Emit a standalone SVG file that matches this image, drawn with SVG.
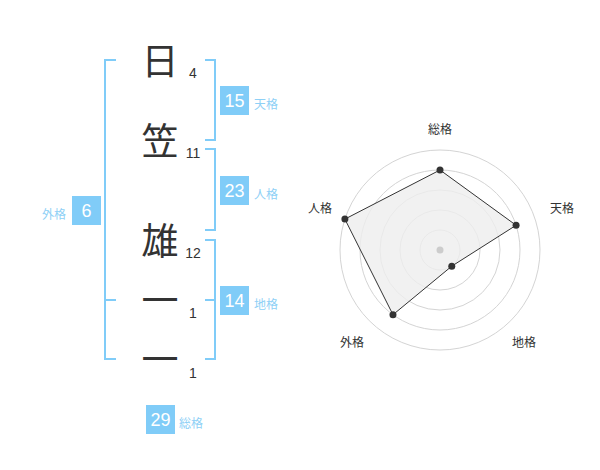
<svg xmlns="http://www.w3.org/2000/svg" width="600" height="470" viewBox="0 0 600 470">
<style>
.ch{font-family:"Noto Sans CJK JP","Noto Sans",sans-serif;font-size:37px;fill:#333;text-anchor:middle}
.num{font-family:"Liberation Sans",Arial,sans-serif;font-size:14px;fill:#333;text-anchor:middle}
.box{fill:#80ccf8}
.bnum{font-family:"Liberation Sans",Arial,sans-serif;font-size:18px;fill:#fff;text-anchor:middle}
.blab{font-family:"Noto Sans CJK JP",sans-serif;font-size:12px;fill:#8ed0f6}
.br{fill:none;stroke:#80ccf8;stroke-width:2}
.ring{fill:none;stroke:#d4d4d4;stroke-width:1}
.rlab{font-family:"Noto Sans CJK JP",sans-serif;font-size:12px;fill:#333;text-anchor:middle}
.dot{fill:#333}
</style>
<rect width="600" height="470" fill="#fff"/>
<g id="connectors">
<path class="br" d="M116,60 H105 V359 H116 M105,300 H116"/>
<path class="br" d="M205,60 H215 V140 H205"/>
<path class="br" d="M205,149 H215 V230 H205"/>
<path class="br" d="M205,240 H215 V359 H205 M205,300 H215"/>
</g>
<g id="char1"><text class="ch" x="160" y="75">日</text><text class="num" x="193" y="78">4</text></g>
<g id="char2"><text class="ch" x="160" y="155">笠</text><text class="num" x="193" y="158">11</text></g>
<g id="char3"><text class="ch" x="160" y="255">雄</text><text class="num" x="193" y="258">12</text></g>
<g id="char4"><text class="ch" x="160" y="314">一</text><text class="num" x="193" y="318">1</text></g>
<g id="char5"><text class="ch" x="160" y="373">一</text><text class="num" x="193" y="378">1</text></g>
<g id="tenkaku"><rect class="box" x="220" y="86" width="29" height="29"/><text class="bnum" x="234.5" y="107">15</text><text class="blab" x="254" y="109">天格</text></g>
<g id="jinkaku"><rect class="box" x="220" y="176" width="29" height="29"/><text class="bnum" x="234.5" y="197">23</text><text class="blab" x="254" y="199">人格</text></g>
<g id="chikaku"><rect class="box" x="220" y="286" width="29" height="29"/><text class="bnum" x="234.5" y="307">14</text><text class="blab" x="254" y="309">地格</text></g>
<g id="gaikaku"><rect class="box" x="72" y="196" width="29" height="29"/><text class="bnum" x="86.5" y="217">6</text><text class="blab" x="66" y="219" text-anchor="end">外格</text></g>
<g id="soukaku"><rect class="box" x="146" y="405" width="29" height="29"/><text class="bnum" x="160.5" y="426">29</text><text class="blab" x="179" y="428">総格</text></g>
<g id="radar">
<circle class="ring" cx="440" cy="250" r="20"/>
<circle class="ring" cx="440" cy="250" r="40"/>
<circle class="ring" cx="440" cy="250" r="60"/>
<circle class="ring" cx="440" cy="250" r="80"/>
<circle class="ring" cx="440" cy="250" r="100"/>
<polygon points="440,170 516.08,225.28 451.76,266.18 392.98,314.72 344.89,219.1" fill="#eeeeee" fill-opacity="0.8" stroke="#333" stroke-width="1"/>
<circle cx="440" cy="250" r="3.5" fill="#cccccc"/>
<circle class="dot" cx="440" cy="170" r="3.5"/>
<circle class="dot" cx="516.08" cy="225.28" r="3.5"/>
<circle class="dot" cx="451.76" cy="266.18" r="3.5"/>
<circle class="dot" cx="392.98" cy="314.72" r="3.5"/>
<circle class="dot" cx="344.89" cy="219.1" r="3.5"/>
<text class="rlab" x="440" y="134">総格</text>
<text class="rlab" x="562" y="213">天格</text>
<text class="rlab" x="524" y="347">地格</text>
<text class="rlab" x="352" y="347">外格</text>
<text class="rlab" x="320" y="213">人格</text>
</g>
</svg>
